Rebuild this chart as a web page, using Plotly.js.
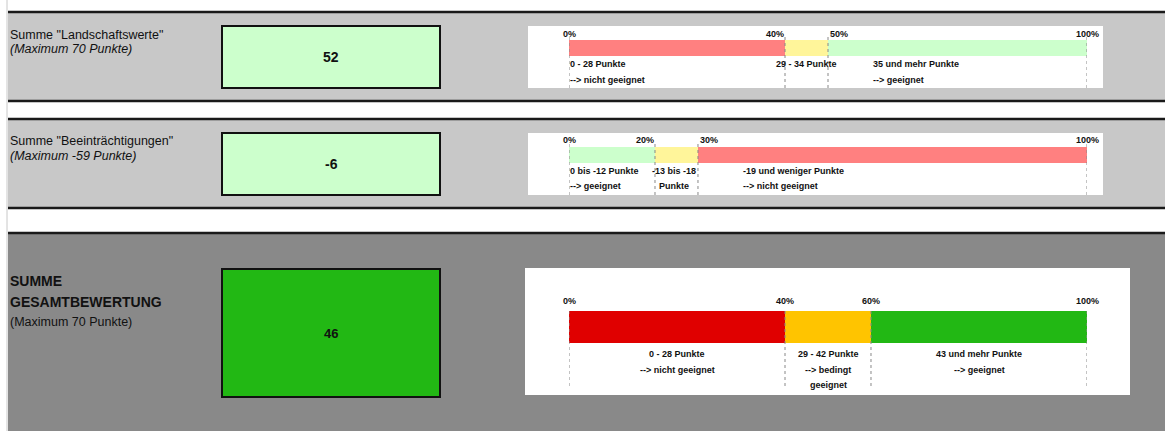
<!DOCTYPE html>
<html><head><meta charset="utf-8">
<script src="https://cdn.plot.ly/plotly-3.0.1.min.js"></script>
<style>html,body{margin:0;padding:0;background:#fff;}#chart{width:1165px;height:431px;}</style>
</head><body><div id="chart"></div>
<script>
// ---------- data ----------
const panelTitles = ['Summe "Landschaftswerte"', 'Summe "Beeinträchtigungen"', 'SUMME<br>GESAMTBEWERTUNG'];
const panelSubtitles = ['(Maximum 70 Punkte)', '(Maximum -59 Punkte)', '(Maximum 70 Punkte)'];
const scores = [52, -6, 46];

const segments1 = [41.7, 8.3, 50.0];
const segments2 = [16.6, 8.3, 75.1];
const segments3 = [41.7, 16.6, 41.7];

const tickLabels1 = ['0%', '40%', '50%', '100%'];
const tickLabels2 = ['0%', '20%', '30%', '100%'];
const tickLabels3 = ['0%', '40%', '60%', '100%'];

const rangeText1 = ['0 - 28 Punkte', '29 - 34 Punkte', '35 und mehr Punkte'];
const verdict1   = ['--&gt; nicht geeignet', '', '--&gt; geeignet'];
const rangeText2 = ['0 bis -12 Punkte', '-13 bis -18', '-19 und weniger Punkte'];
const verdict2   = ['--&gt; geeignet', 'Punkte', '--&gt; nicht geeignet'];
const rangeText3 = ['0 - 28 Punkte', '29 - 42 Punkte', '43 und mehr Punkte'];
const verdict3   = ['--&gt; nicht geeignet', '--&gt; bedingt<br>geeignet', '--&gt; geeignet'];

// ---------- layout helpers ----------
const W = 1165, H = 431;
const px = x => x / W;
const py = y => 1 - y / H;
const FONT = 'Liberation Sans, Arial, sans-serif';
const SMALL = 9;

const panels = [
  {seg: segments1, ticks: tickLabels1, top: rangeText1, bot: verdict1,
   colors: ['#ff8080', '#fff59a', '#ccffcc'], T: 37, B: 88, bt: 40, bb: 56, tickY: 34, rows: [64, 80],
   tickAnchor: ['center', 'right', 'left', 'center'], tickShift: [0, 1, 0, 0],
   textAlign: ['left', 'center', 'left'], textShift: [-1, 0, 43]},
  {seg: segments2, ticks: tickLabels2, top: rangeText2, bot: verdict2,
   colors: ['#ccffcc', '#fff59a', '#ff8080'], T: 144, B: 195, bt: 147, bb: 163, tickY: 140, rows: [171, 186],
   tickAnchor: ['center', 'right', 'left', 'center'], tickShift: [0, 1, 0, 0],
   textAlign: ['left', 'center', 'left'], textShift: [-1, -2, 43]},
  {seg: segments3, ticks: tickLabels3, top: rangeText3, bot: verdict3,
   colors: ['#e00000', '#ffc400', '#22b814'], T: 309, B: 386, bt: 311, bb: 343, tickY: 301, rows: [354, 370, 385],
   tickAnchor: ['center', 'center', 'center', 'center'], tickShift: [0, 0, 0, 0],
   textAlign: ['center', 'center', 'center'], textShift: [0, 0, 0]}
];

const traces = [];
const shapes = [];
const annotations = [];
const layout = {
  width: W, height: H, margin: {l: 0, r: 0, t: 0, b: 0},
  paper_bgcolor: '#ffffff', plot_bgcolor: 'rgba(0,0,0,0)',
  barmode: 'stack', showlegend: false, font: {family: FONT, color: '#111'},
  shapes: shapes, annotations: annotations
};

// backgrounds
shapes.push({type: 'line', xref: 'paper', yref: 'paper', x0: px(7), x1: px(7), y0: 0, y1: 1, line: {color: '#c8c8c8', width: 1}, layer: 'below'});
shapes.push({type: 'rect', xref: 'paper', yref: 'paper', x0: px(8), x1: 1, y0: py(101), y1: py(12), fillcolor: '#c8c8c8', line: {width: 0}, layer: 'below'});
shapes.push({type: 'rect', xref: 'paper', yref: 'paper', x0: px(8), x1: 1, y0: py(208), y1: py(119), fillcolor: '#c8c8c8', line: {width: 0}, layer: 'below'});
shapes.push({type: 'rect', xref: 'paper', yref: 'paper', x0: px(8), x1: 1, y0: 0, y1: py(233), fillcolor: '#898989', line: {width: 0}, layer: 'below'});
[12, 101, 119, 208, 233].forEach(y => shapes.push({type: 'line', xref: 'paper', yref: 'paper', x0: px(8), x1: 1, y0: py(y), y1: py(y), line: {color: '#1a1a1a', width: 2.5}, layer: 'below'}));
// white chart boxes
const boxes = [[528, 1103, 26, 88], [528, 1103, 133, 195], [525, 1130, 268, 395]];
boxes.forEach(b => shapes.push({type: 'rect', xref: 'paper', yref: 'paper', x0: px(b[0]), x1: px(b[1]), y0: py(b[3]), y1: py(b[2]), fillcolor: '#ffffff', line: {width: 0}, layer: 'below'}));
// score boxes
const scoreBoxes = [[222, 440, 26, 88, '#ccffcc'], [222, 440, 133, 195, '#ccffcc'], [222, 440, 269, 397, '#22b814']];
scoreBoxes.forEach((b, k) => {
  shapes.push({type: 'rect', xref: 'paper', yref: 'paper', x0: px(b[0]), x1: px(b[1]), y0: py(b[3]), y1: py(b[2]), fillcolor: b[4], line: {color: '#111', width: 2}, layer: 'below'});
  annotations.push({xref: 'paper', yref: 'paper', x: px((b[0] + b[1]) / 2), y: py((b[2] + b[3]) / 2), text: '<b>' + scores[k] + '</b>', showarrow: false, xanchor: 'center', yanchor: 'middle', font: {size: k === 2 ? 13 : 14, color: '#111', family: FONT}});
});

// left labels
const LX = px(8);
annotations.push({xref: 'paper', yref: 'paper', x: LX, y: py(35), text: panelTitles[0], showarrow: false, xanchor: 'left', yanchor: 'middle', font: {size: 12.5, family: FONT, color: '#111'}});
annotations.push({xref: 'paper', yref: 'paper', x: LX, y: py(49), text: '<i>' + panelSubtitles[0] + '</i>', showarrow: false, xanchor: 'left', yanchor: 'middle', font: {size: 12.5, family: FONT, color: '#111'}});
annotations.push({xref: 'paper', yref: 'paper', x: LX, y: py(141), text: panelTitles[1], showarrow: false, xanchor: 'left', yanchor: 'middle', font: {size: 12.5, family: FONT, color: '#111'}});
annotations.push({xref: 'paper', yref: 'paper', x: LX, y: py(156), text: '<i>' + panelSubtitles[1] + '</i>', showarrow: false, xanchor: 'left', yanchor: 'middle', font: {size: 12.5, family: FONT, color: '#111'}});
panelTitles[2].split('<br>').forEach((t, i) => annotations.push({xref: 'paper', yref: 'paper', x: LX, y: py(281 + 21 * i), text: '<b>' + t + '</b>', showarrow: false, xanchor: 'left', yanchor: 'middle', font: {size: 14, family: FONT, color: '#111'}}));
annotations.push({xref: 'paper', yref: 'paper', x: LX, y: py(322), text: panelSubtitles[2], showarrow: false, xanchor: 'left', yanchor: 'middle', font: {size: 12.5, family: FONT, color: '#111'}});

// bar panels
panels.forEach((p, k) => {
  const sfx = k === 0 ? '' : String(k + 1);
  const xa = 'x' + sfx, ya = 'y' + sfx;
  const s = p.bb - p.bt;
  const r1 = 0.5 + (p.bt - p.T) / s;
  const r0 = -0.5 - (p.B - p.bb) / s;
  layout['xaxis' + sfx] = {domain: [px(569), px(1087)], range: [0, 100], anchor: ya, showgrid: false, zeroline: false, showticklabels: false, showline: false, fixedrange: true};
  layout['yaxis' + sfx] = {domain: [py(p.B), py(p.T)], range: [r0, r1], anchor: xa, showgrid: false, zeroline: false, showticklabels: false, showline: false, fixedrange: true};
  p.seg.forEach((v, i) => traces.push({type: 'bar', orientation: 'h', x: [v], y: [0], width: 1, xaxis: xa, yaxis: ya,
    marker: {color: p.colors[i], line: {width: 0}}, hoverinfo: 'skip', showlegend: false}));
  const cum = [0];
  p.seg.forEach(v => cum.push(cum[cum.length - 1] + v));
  cum.forEach((c, j) => {
    shapes.push({type: 'line', xref: xa, yref: 'paper', x0: c, x1: c, y0: py(p.B), y1: py(p.T), line: {color: '#888', width: 1, dash: 'dot'}, layer: 'above'});
    annotations.push({xref: xa, yref: 'paper', x: c, y: py(p.tickY), xshift: p.tickShift[j], text: '<b>' + p.ticks[j] + '</b>', showarrow: false,
      xanchor: p.tickAnchor[j], yanchor: 'middle', font: {size: SMALL, family: FONT, color: '#111'}});
  });
  p.seg.forEach((v, i) => {
    const x = p.textAlign[i] === 'center' ? cum[i] + v / 2 : cum[i];
    const lines = [p.top[i]].concat(p.bot[i] ? p.bot[i].split('<br>') : []);
    lines.forEach((t, r) => {
      if (!t) return;
      annotations.push({xref: xa, yref: 'paper', x: x, y: py(p.rows[r]), xshift: p.textShift[i], text: '<b>' + t + '</b>', showarrow: false,
        xanchor: p.textAlign[i], yanchor: 'middle', font: {size: SMALL, family: FONT, color: '#111'}});
    });
  });
});

Plotly.newPlot('chart', traces, layout, {displayModeBar: false, staticPlot: true});
</script>
</body></html>
